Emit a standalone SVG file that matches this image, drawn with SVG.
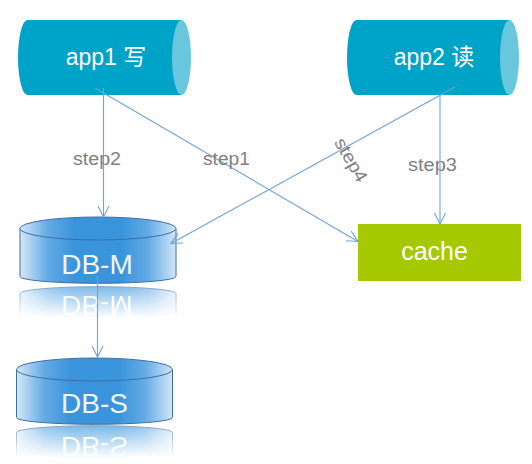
<svg xmlns="http://www.w3.org/2000/svg" xmlns:xlink="http://www.w3.org/1999/xlink" width="532" height="464" viewBox="0 0 532 464">
<style>
.app-body{fill:#00a3c8}
.app-cap{fill:#68c6dd}
.apptxt{font-family:"Liberation Sans","Noto Sans CJK SC",sans-serif;font-size:23px;fill:#ffffff;text-anchor:middle}
.dbtxt{font-family:"Liberation Sans",Arial,sans-serif;font-size:28px;fill:#f2f6fa;text-anchor:middle}
.cachetxt{font-family:"Liberation Sans",Arial,sans-serif;font-size:25px;fill:#ffffff;text-anchor:middle}
.conn{stroke:#6ea2da;stroke-width:1.1;fill:none}
.lbl{font-family:"Liberation Sans",Arial,sans-serif;font-size:18px;fill:#7f7f7f}
</style>
<defs>
<linearGradient id="dbGrad" x1="0" y1="0" x2="1" y2="0">
<stop offset="0" stop-color="#d6e8f8"/>
<stop offset="0.18" stop-color="#62aae4"/>
<stop offset="0.35" stop-color="#3994dc"/>
<stop offset="0.65" stop-color="#3994dc"/>
<stop offset="0.82" stop-color="#62aae4"/>
<stop offset="1" stop-color="#d2e6f8"/>
</linearGradient>
<linearGradient id="fadeM" gradientUnits="userSpaceOnUse" x1="0" y1="284" x2="0" y2="318">
<stop offset="0" stop-color="#ffffff" stop-opacity="0.7"/>
<stop offset="1" stop-color="#ffffff" stop-opacity="0"/>
</linearGradient>
<linearGradient id="fadeS" gradientUnits="userSpaceOnUse" x1="0" y1="424" x2="0" y2="458">
<stop offset="0" stop-color="#ffffff" stop-opacity="0.7"/>
<stop offset="1" stop-color="#ffffff" stop-opacity="0"/>
</linearGradient>
<mask id="maskM" maskUnits="userSpaceOnUse" x="0" y="280" width="200" height="50">
<rect x="0" y="280" width="200" height="50" fill="url(#fadeM)"/>
</mask>
<mask id="maskS" maskUnits="userSpaceOnUse" x="0" y="420" width="200" height="44">
<rect x="0" y="420" width="200" height="44" fill="url(#fadeS)"/>
</mask>
<g id="cyl">
<path d="M-78,0 L-78,48 A78,6.8 0 0 0 78,48 L78,0 Z" fill="url(#dbGrad)" stroke="#3d6fa6" stroke-width="1"/>
<ellipse cx="0" cy="0" rx="78" ry="11.5" fill="url(#dbGrad)" stroke="#3d6fa6" stroke-width="1"/>
</g>
<marker id="arr" viewBox="0 0 12 12" refX="11" refY="6" markerWidth="12" markerHeight="12" markerUnits="userSpaceOnUse" orient="auto">
<path d="M0,0.5 L11,6 L0,11.5" fill="none" stroke="#6ea2da" stroke-width="1.1"/>
</marker>
</defs>

<g id="app1">
<path class="app-body" d="M27.5,20 L181.5,20 L181.5,95 L27.5,95 A9.5,37.5 0 0 1 27.5,20 Z"/>
<ellipse class="app-cap" cx="181.5" cy="57.5" rx="9.5" ry="37.5"/>
<text class="apptxt" x="106" y="65">app1 写</text>
</g>

<g id="app2">
<path class="app-body" d="M356.5,20 L509.5,20 L509.5,95 L356.5,95 A9.5,37.5 0 0 1 356.5,20 Z"/>
<ellipse class="app-cap" cx="509.5" cy="57.5" rx="9.5" ry="37.5"/>
<text class="apptxt" x="434" y="65">app2 读</text>
</g>

<g id="db-m">
<use xlink:href="#cyl" href="#cyl" transform="translate(98,228.5)"/>
<text class="dbtxt" x="97" y="274">DB-M</text>
<g mask="url(#maskM)">
<g transform="translate(0,570) scale(1,-1)">
<use xlink:href="#cyl" href="#cyl" transform="translate(98,228.5)"/>
<text class="dbtxt" x="97" y="274">DB-M</text>
</g>
</g>
</g>

<g id="db-s">
<use xlink:href="#cyl" href="#cyl" transform="translate(94.5,369.5)"/>
<text class="dbtxt" x="94.5" y="413">DB-S</text>
<g mask="url(#maskS)">
<g transform="translate(0,850) scale(1,-1)">
<use xlink:href="#cyl" href="#cyl" transform="translate(94.5,369.5)"/>
<text class="dbtxt" x="94.5" y="413">DB-S</text>
</g>
</g>
</g>

<g id="cache">
<rect x="358" y="224" width="163" height="57" fill="#a6c800"/>
<text class="cachetxt" x="434.5" y="260">cache</text>
</g>

<g id="connectors">
<line class="conn" x1="103.5" y1="88" x2="103.5" y2="217" marker-end="url(#arr)"/>
<line class="conn" x1="95" y1="88" x2="358" y2="241.5" marker-end="url(#arr)"/>
<line class="conn" x1="455" y1="87" x2="171" y2="243.5" marker-end="url(#arr)"/>
<line class="conn" x1="440" y1="95" x2="440" y2="224" marker-end="url(#arr)"/>
<line class="conn" x1="97.5" y1="276" x2="97.5" y2="357" marker-end="url(#arr)"/>
<text class="lbl" x="73" y="165" textLength="48" lengthAdjust="spacingAndGlyphs">step2</text>
<text class="lbl" x="203" y="165" textLength="47" lengthAdjust="spacingAndGlyphs">step1</text>
<text class="lbl" x="408" y="171" textLength="49" lengthAdjust="spacingAndGlyphs">step3</text>
<text class="lbl" transform="translate(351,160) rotate(60)" x="-24" y="6" textLength="48" lengthAdjust="spacingAndGlyphs">step4</text>
</g>
</svg>
